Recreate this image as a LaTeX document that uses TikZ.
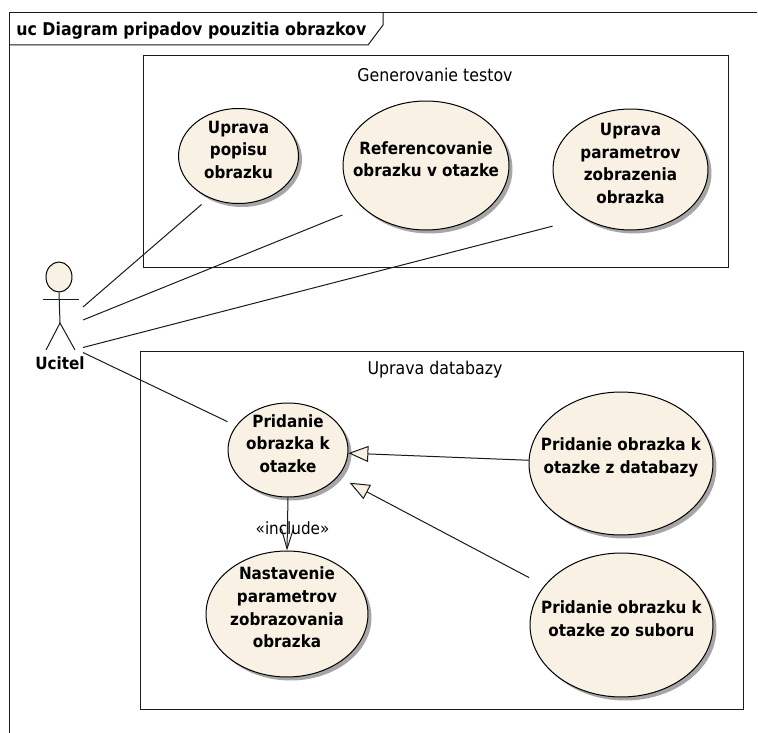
\documentclass[tikz,border=0pt]{standalone}
\usepackage{fontspec}
\setmainfont[FakeStretch=.9]{DejaVu Sans}
\usepackage{tikz}
\usetikzlibrary{arrows.meta,calc,shadows,shapes.geometric}
\definecolor{usecase}{HTML}{F9F1E4}
\definecolor{edge}{HTML}{1A1A1A}
% first line pushed down a little inside the ellipse
\newcommand{\lowered}{\mbox{}\\[-19pt]}
\tikzset{
  line/.style={edge,line width=.02cm},
  boundary/.style={line,fill=white},
  boundarytitle/.style={font=\fontsize{10}{11}\selectfont},
  usecasenode/.style={ellipse,draw=black,line width=.02cm,fill=usecase,inner sep=-1cm,align=center,
    font=\fontsize{9.6}{12.9}\selectfont\bfseries,
    drop shadow={shadow xshift=.07cm,shadow yshift=-.07cm,fill=black!35,opacity=1}},
  generalization/.style={line,-{Triangle[open,fill=usecase,length=.4cm,width=.32cm]}},
  include/.style={line,-{Straight Barb[length=.4cm,width=.24cm]}},
}

\begin{document}
\begin{tikzpicture}[x=.02cm,y=-.02cm]
    \useasboundingbox (0,0) rectangle (758,733);

    % frame
    \draw[line] (9,733) -- (9,13) -- (757,13);
    \draw[line] (383,13) -- (383,25) -- (368,45) -- (9,45);
    \path (16,31) node[anchor=west,inner sep=0pt,font=\fontsize{10}{12}\selectfont\bfseries] (title) {uc Diagram pripadov pouzitia obrazkov};

    % boundaries
    \draw[boundary] (143,56) rectangle (728,268);
    \draw[boundary] (140,352) rectangle (743,709);
    \path
    (435,75) node[boundarytitle] (Gen) {Generovanie testov}
    (435,370) node[boundarytitle] (Dat) {Uprava databazy}
    ;

    % use cases
    \path
    (238.5,156) node[usecasenode,minimum width=2.4cm,minimum height=1.9cm] (popis) {\lowered Uprava\\popisu\\obrazku}
    (426,165.5) node[usecasenode,minimum width=3.32cm,minimum height=2.58cm] (ref) {\lowered Referencovanie\\obrazku v otazke}
    (630.5,169.5) node[usecasenode,minimum width=3.1cm,minimum height=2.42cm] (param) {\lowered Uprava\\parametrov\\zobrazenia\\obrazka}
    (288,450) node[usecasenode,minimum width=2.4cm,minimum height=1.88cm] (prid) {\lowered Pridanie\\obrazka k\\otazke}
    (287,614) node[usecasenode,minimum width=3.24cm,minimum height=2.52cm] (nast) {\lowered Nastavenie\\parametrov\\zobrazovania\\obrazka}
    (621,463.5) node[usecasenode,minimum width=3.68cm,minimum height=2.86cm] (datab) {\lowered Pridanie obrazka k\\otazke z databazy}
    (621.5,625) node[usecasenode,minimum width=3.66cm,minimum height=2.88cm] (subor) {\lowered Pridanie obrazku k\\otazke zo suboru}
    ;

    % actor
    \path
    (59,277) node[ellipse,draw=black,line width=.02cm,fill=usecase,minimum width=.52cm,minimum height=.6cm,inner sep=0pt] (head) {}
    (60,363) node[inner sep=0pt,font=\fontsize{9.6}{12}\selectfont\bfseries] (Ucitel) {Ucitel}
    ;
    \coordinate (hip) at (60,323);
    \coordinate (armL) at (43,300);
    \coordinate (armR) at (79,300);
    \coordinate (footL) at (46,350);
    \coordinate (footR) at (75,350);
    \draw[line] (head.south) -- (hip);
    \draw[line] (armL) -- (armR);
    \draw[line] (footL) -- (hip) -- (footR);

    \coordinate (uA) at (83,307);
    \coordinate (uB) at (83,320);
    \coordinate (uC) at (83,347.5);
    \coordinate (uD) at (83,352.5);

    % associations
    \draw[line,shorten >=.2cm] (uA) -- (popis.235.1);
    \draw[line,shorten >=.42cm] (uB) -- (ref.213.2);
    \draw[line,shorten >=.64cm] (uC) -- (param.226.2);
    \draw[line,shorten >=.19cm] (uD) -- (prid.155.1);

    % generalizations
    \draw[generalization] (datab.178.9) -- (prid.357);
    \draw[generalization,shorten <=.34cm,shorten >=.26cm] (subor.153) -- (prid.332.4);

    \draw[include] (prid.south) -- (nast.north);
    \path (292.5,528) node[inner sep=0pt,font=\fontsize{9.6}{11}\selectfont] (inc) {«include»};
\end{tikzpicture}
\end{document}
